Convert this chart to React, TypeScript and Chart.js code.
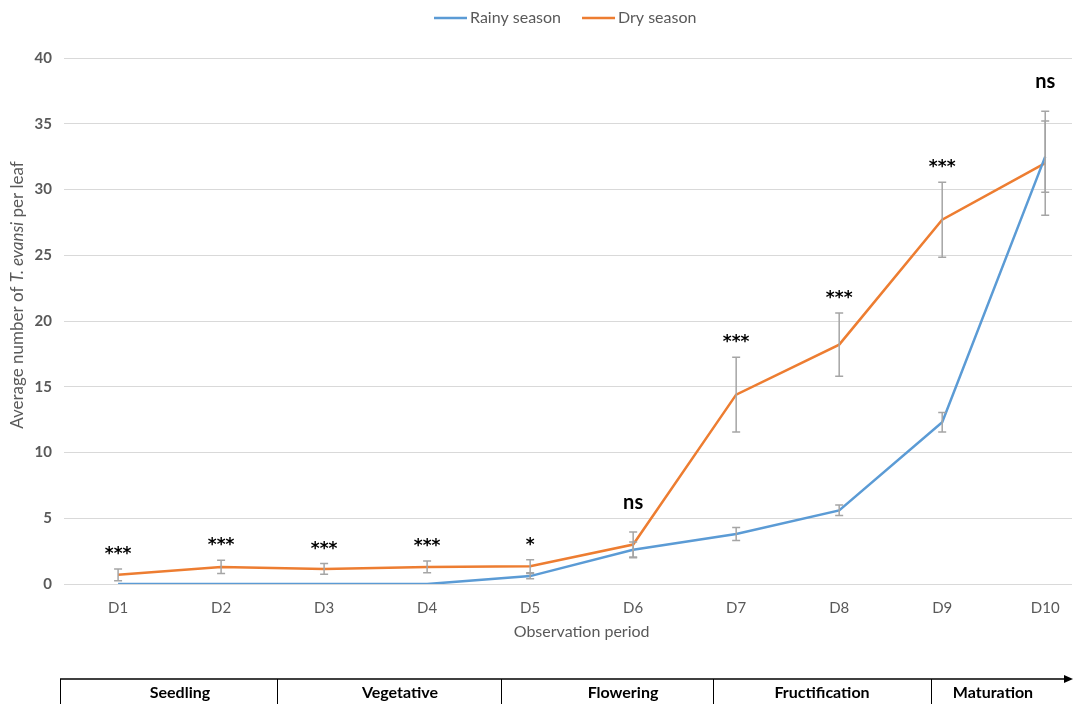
import { useEffect, useRef } from "react";
import { Chart, registerables } from "chart.js";

Chart.register(...registerables);

const categories = ["D1", "D2", "D3", "D4", "D5", "D6", "D7", "D8", "D9", "D10"];
const rainy = [0, 0, 0, 0, 0.6, 2.6, 3.8, 5.6, 12.3, 32.5];
const rainyErr = [0, 0, 0, 0, 0.2, 0.6, 0.5, 0.4, 0.75, 2.7];
const dry = [0.7, 1.3, 1.15, 1.3, 1.35, 3.0, 14.4, 18.2, 27.7, 32.0];
const dryErr = [0.45, 0.5, 0.4, 0.45, 0.5, 0.95, 2.85, 2.4, 2.85, 3.95];
const significance = ["***", "***", "***", "***", "*", "ns", "***", "***", "***", "ns"];
const yTicks = [0, 5, 10, 15, 20, 25, 30, 35, 40];
const stages = ["Seedling", "Vegetative", "Flowering", "Fructification", "Maturation"];

// layout (not data)
const W = 1075;
const H = 704;
const FONT = "Lato, 'Noto Sans', sans-serif";
const GREY = "#595959";
const BLUE = "#5B9BD5";
const ORANGE = "#ED7D31";
const AREA_LEFT = 64;
const AREA_TOP = 58;
const AREA_BOTTOM = 584;
const LEGEND_X = 434;
const LEGEND_Y = 18;
const stageBounds = [60, 277, 501, 713, 931];
const stageLabelX = [180, 400, 623, 822, 993];
const stageLineY = 679;
const stageArrowEnd = 1073;

const decorPlugin = {
  id: "decor",
  afterDatasetsDraw(chart: any) {
    const ctx = chart.ctx;
    const ys = chart.scales.y;
    const errs = [rainyErr, dryErr];
    const vals = [rainy, dry];
    ctx.save();
    ctx.strokeStyle = "#A5A5A5";
    ctx.lineWidth = 1.5;
    for (let d = 0; d < 2; d++) {
      const meta = chart.getDatasetMeta(d);
      meta.data.forEach((pt: any, j: number) => {
        const e = errs[d][j];
        if (!e) return;
        const x = pt.x;
        const t = ys.getPixelForValue(vals[d][j] + e);
        const b = ys.getPixelForValue(vals[d][j] - e);
        ctx.beginPath();
        ctx.moveTo(x, t);
        ctx.lineTo(x, b);
        ctx.moveTo(x - 4, t);
        ctx.lineTo(x + 4, t);
        ctx.moveTo(x - 4, b);
        ctx.lineTo(x + 4, b);
        ctx.stroke();
      });
    }
    // significance labels
    ctx.fillStyle = "#000";
    ctx.textAlign = "center";
    ctx.textBaseline = "alphabetic";
    const meta = chart.getDatasetMeta(1);
    significance.forEach((s, j) => {
      const top = Math.max(dry[j] + dryErr[j], rainy[j] + rainyErr[j]);
      const y = ys.getPixelForValue(top);
      const x = meta.data[j].x;
      if (s === "ns") {
        ctx.font = `bold 20px ${FONT}`;
        ctx.fillText(s, x, y - 23);
      } else {
        ctx.font = `bold 17px 'DejaVu Sans', sans-serif`;
        ctx.fillText(s, x, y - 10);
      }
    });
    ctx.restore();
  },
  afterDraw(chart: any) {
    const ctx = chart.ctx;
    const xs = chart.scales.x;
    ctx.save();

    // legend
    ctx.font = `16px ${FONT}`;
    ctx.textBaseline = "middle";
    ctx.textAlign = "left";
    let lx = LEGEND_X;
    chart.data.datasets.forEach((ds: any) => {
      ctx.strokeStyle = ds.borderColor;
      ctx.lineWidth = 2.5;
      ctx.beginPath();
      ctx.moveTo(lx, LEGEND_Y);
      ctx.lineTo(lx + 33, LEGEND_Y);
      ctx.stroke();
      ctx.fillStyle = GREY;
      ctx.fillText(ds.label, lx + 36, LEGEND_Y);
      lx += 36 + ctx.measureText(ds.label).width + 21;
    });

    // x title
    ctx.fillStyle = GREY;
    ctx.font = `16px ${FONT}`;
    ctx.textAlign = "center";
    ctx.textBaseline = "middle";
    const cx = (xs.getPixelForValue(1) + xs.getPixelForValue(categories.length)) / 2;
    ctx.fillText("Observation period", cx, 632);

    // y title with italic part
    const parts = [
      { t: "Average number of ", f: `17px ${FONT}` },
      { t: "T. evansi", f: `italic 17px ${FONT}` },
      { t: " per leaf", f: `17px ${FONT}` },
    ];
    let total = 0;
    parts.forEach((p) => {
      ctx.font = p.f;
      total += ctx.measureText(p.t).width;
    });
    ctx.translate(18, 295);
    ctx.rotate(-Math.PI / 2);
    ctx.textAlign = "left";
    let x = -total / 2;
    parts.forEach((p) => {
      ctx.font = p.f;
      ctx.fillText(p.t, x, 0);
      x += ctx.measureText(p.t).width;
    });
    ctx.restore();

    // stage bar
    ctx.save();
    ctx.strokeStyle = "#000";
    ctx.lineWidth = 1.5;
    ctx.beginPath();
    ctx.moveTo(stageBounds[0], stageLineY);
    ctx.lineTo(stageArrowEnd - 6, stageLineY);
    ctx.stroke();
    ctx.fillStyle = "#000";
    ctx.beginPath();
    ctx.moveTo(stageArrowEnd, stageLineY);
    ctx.lineTo(stageArrowEnd - 9, stageLineY - 4);
    ctx.lineTo(stageArrowEnd - 9, stageLineY + 4);
    ctx.closePath();
    ctx.fill();
    ctx.lineWidth = 1;
    stageBounds.forEach((bx) => {
      ctx.beginPath();
      ctx.moveTo(bx + 0.5, stageLineY);
      ctx.lineTo(bx + 0.5, H);
      ctx.stroke();
    });
    ctx.font = `bold 16px ${FONT}`;
    ctx.textAlign = "center";
    ctx.textBaseline = "middle";
    stages.forEach((s, i) => {
      ctx.fillText(s, stageLabelX[i], stageLineY + 14);
    });
    ctx.restore();
  },
};

export default function App() {
  const ref = useRef<HTMLCanvasElement | null>(null);
  useEffect(() => {
    if (!ref.current) return;
    const chart = new Chart(ref.current, {
      type: "line",
      data: {
        datasets: [
          {
            label: "Rainy season",
            data: rainy.map((v, i) => ({ x: i + 1, y: v })),
            borderColor: BLUE,
            backgroundColor: BLUE,
            borderWidth: 2.5,
            pointRadius: 0,
            tension: 0,
          },
          {
            label: "Dry season",
            data: dry.map((v, i) => ({ x: i + 1, y: v })),
            borderColor: ORANGE,
            backgroundColor: ORANGE,
            borderWidth: 2.5,
            pointRadius: 0,
            tension: 0,
          },
        ],
      },
      options: {
        responsive: false,
        animation: false,
        devicePixelRatio: 1,
        layout: { padding: { left: 0, right: 3, top: AREA_TOP, bottom: 0 } },
        plugins: {
          legend: { display: false },
          tooltip: { enabled: false },
        },
        scales: {
          x: {
            type: "linear",
            min: 0.475,
            max: 10.26,
            afterBuildTicks: (axis: any) => {
              axis.ticks = categories.map((_, i) => ({ value: i + 1 }));
            },
            afterFit: (axis: any) => {
              axis.height = H - AREA_BOTTOM;
            },
            ticks: {
              autoSkip: false,
              maxRotation: 0,
              color: GREY,
              font: { family: FONT, size: 15 },
              padding: 15,
              callback: (v: any) => categories[Math.round(v) - 1] ?? "",
            },
            grid: { display: false, drawTicks: false },
            border: { display: false },
          },
          y: {
            min: 0,
            max: 40,
            afterBuildTicks: (axis: any) => {
              axis.ticks = yTicks.map((v) => ({ value: v }));
            },
            afterFit: (axis: any) => {
              axis.width = AREA_LEFT;
            },
            ticks: {
              color: GREY,
              font: { family: FONT, size: 15, weight: "bold" },
              padding: 12,
            },
            grid: { color: "#D9D9D9", lineWidth: 1, drawTicks: false },
            border: { display: false },
          },
        },
      },
      plugins: [decorPlugin],
    } as any);
    return () => chart.destroy();
  }, []);
  return (
    <div style={{ position: "absolute", left: 0, top: 0, width: W, height: H, background: "#fff" }}>
      <canvas ref={ref} width={W} height={H} />
    </div>
  );
}
